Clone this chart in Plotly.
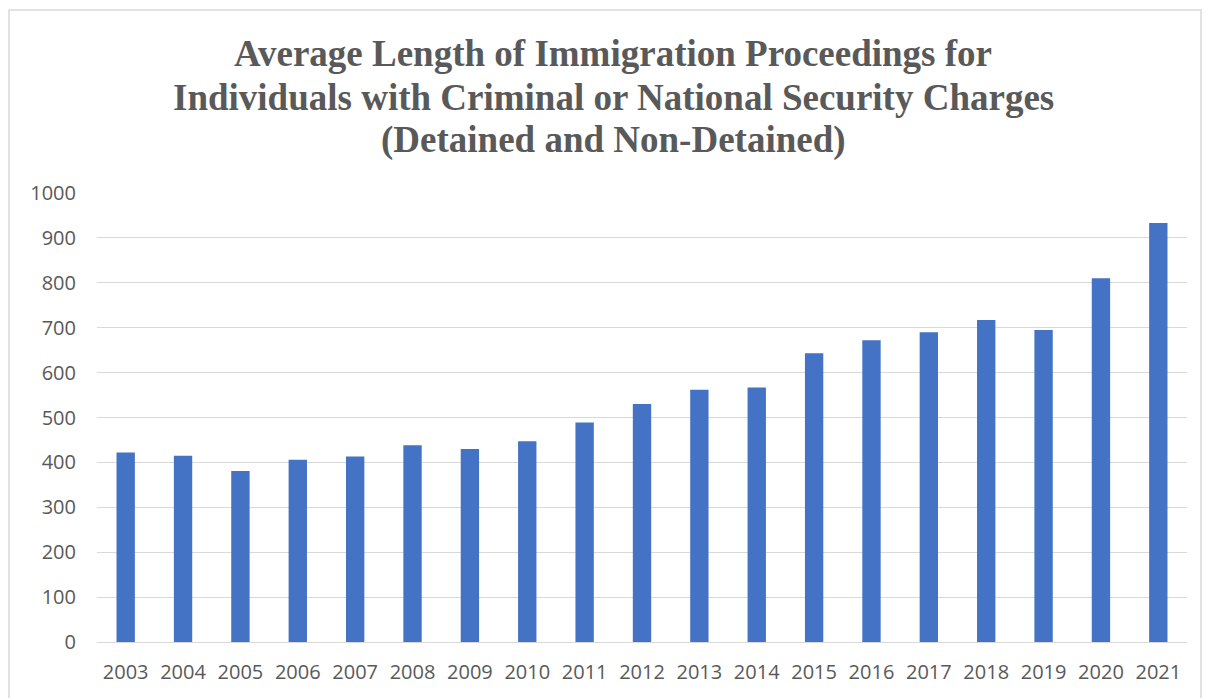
import plotly.graph_objects as go

years = [str(y) for y in range(2003, 2022)]
avg_days = [422, 415, 381, 406, 413, 438, 430, 447, 489, 530, 562, 567,
            643, 672, 690, 717, 695, 810, 933]
y_ticks = [0, 100, 200, 300, 400, 500, 600, 700, 800, 900, 1000]
title_lines = [
    "Average Length of Immigration Proceedings for",
    "Individuals with Criminal or National Security Charges",
    "(Detained and Non-Detained)",
]

W, H = 1207, 698
ml, mr, mt, mb = 97, 20, 193, 56
pw, ph = W - ml - mr, H - mt - mb

def px_x(px):
    return (px - ml) / pw

def px_y(py):
    return (H - mb - py) / ph

fig = go.Figure(go.Bar(
    x=years, y=avg_days,
    marker=dict(color="#4472C4", line=dict(width=0)),
))

title_centers = [54, 97, 140]
annotations = [
    dict(text=t, xref="paper", yref="paper", x=px_x(613), y=px_y(cy),
         xanchor="center", yanchor="middle", showarrow=False,
         font=dict(family="Liberation Serif", size=37, color="#595959", weight="bold"))
    for t, cy in zip(title_lines, title_centers)
]

tick_font = dict(family="Open Sans", size=20, color="#595959")

fig.update_layout(
    width=W, height=H,
    margin=dict(l=ml, r=mr, t=mt, b=mb),
    paper_bgcolor="white", plot_bgcolor="white",
    bargap=0.68,
    showlegend=False,
    annotations=annotations,
    xaxis=dict(
        showgrid=False, showline=False, ticks="",
        tickfont=tick_font,
        ticklabelstandoff=16,
    ),
    yaxis=dict(
        range=[0, 1000], tickvals=y_ticks,
        showgrid=True, gridcolor="#d9d9d9", gridwidth=1,
        zeroline=True, zerolinecolor="#d9d9d9", zerolinewidth=1,
        showline=False, ticks="",
        tickfont=tick_font,
        ticklabelstandoff=20,
    ),
    shapes=[dict(
        type="rect", xref="paper", yref="paper",
        x0=px_x(9), x1=px_x(1201), y0=px_y(705), y1=px_y(10),
        line=dict(color="#d9d9d9", width=1.5), fillcolor="rgba(0,0,0,0)",
        layer="below",
    )],
)

fig.write_html("out.html")
